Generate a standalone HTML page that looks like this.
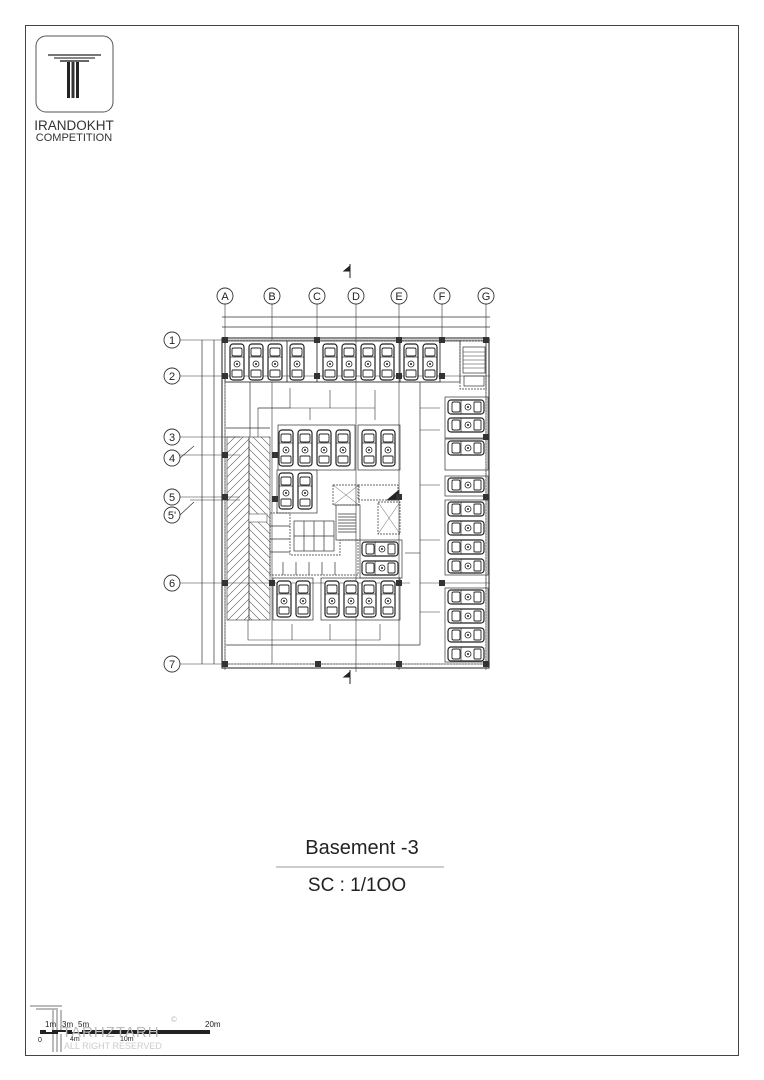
<!DOCTYPE html>
<html><head><meta charset="utf-8"><style>
html,body{margin:0;padding:0;background:#fff;}
svg{display:block;}
text{font-family:"Liberation Sans",sans-serif;}
</style></head><body>
<svg width="764" height="1080" viewBox="0 0 764 1080" xmlns="http://www.w3.org/2000/svg">
<defs>
<g id="cv">
  <rect x="-7" y="-18" width="14" height="36" rx="3" fill="#fff" stroke="#222" stroke-width="1.2"/>
  <rect x="-5" y="-14" width="10" height="8" rx="1.5" fill="none" stroke="#222" stroke-width="0.9"/>
  <rect x="-5" y="8" width="10" height="7" rx="1" fill="none" stroke="#222" stroke-width="0.9"/>
  <line x1="-7" y1="-5" x2="7" y2="-5" stroke="#222" stroke-width="0.7"/>
  <circle cx="0" cy="2" r="3" fill="none" stroke="#222" stroke-width="0.8"/>
  <circle cx="0" cy="2" r="1" fill="#222"/>
</g>
<g id="ch">
  <rect x="-18" y="-7" width="36" height="14" rx="3" fill="#fff" stroke="#222" stroke-width="1.2"/>
  <rect x="-14" y="-5" width="8" height="10" rx="1.5" fill="none" stroke="#222" stroke-width="0.9"/>
  <rect x="8" y="-5" width="7" height="10" rx="1" fill="none" stroke="#222" stroke-width="0.9"/>
  <line x1="-5" y1="-7" x2="-5" y2="7" stroke="#222" stroke-width="0.7"/>
  <circle cx="2" cy="0" r="3" fill="none" stroke="#222" stroke-width="0.8"/>
  <circle cx="2" cy="0" r="1" fill="#222"/>
</g>
<pattern id="hatch" width="8" height="8" patternUnits="userSpaceOnUse">
  <path d="M0 8 L8 0 M-2 2 L2 -2 M6 10 L10 6" stroke="#555" stroke-width="0.6"/>
</pattern>
<pattern id="hatch2" width="8" height="8" patternUnits="userSpaceOnUse">
  <path d="M0 0 L8 8 M-2 6 L2 10 M6 -2 L10 2" stroke="#555" stroke-width="0.6"/>
</pattern>
</defs>

<!-- frame -->
<rect x="25.5" y="25.5" width="713" height="1030" fill="none" stroke="#444" stroke-width="1"/>

<!-- logo -->
<rect x="36" y="36" width="77" height="76" rx="10" fill="#fff" stroke="#555" stroke-width="1"/>
<rect x="48" y="54" width="53" height="2" fill="#777"/>
<rect x="54" y="57" width="41" height="2" fill="#888"/>
<rect x="60" y="60" width="29" height="2" fill="#666"/>
<rect x="67" y="62" width="3" height="36" fill="#222"/>
<rect x="71.5" y="62" width="3" height="36" fill="#333"/>
<rect x="76" y="62" width="3" height="36" fill="#222"/>
<text x="74" y="130" font-size="13.5" text-anchor="middle" fill="#333">IRANDOKHT</text>
<text x="74" y="141" font-size="11" text-anchor="middle" fill="#333">COMPETITION</text>

<!-- plan -->
<g stroke="#333" fill="none" stroke-width="0.7">
  <!-- axis lines vertical -->
  <g stroke-width="0.6">
    <line x1="225" y1="304" x2="225" y2="670"/>
    <line x1="272" y1="304" x2="272" y2="340"/>
    <line x1="317" y1="304" x2="317" y2="340"/>
    <line x1="356" y1="304" x2="356" y2="672"/>
    <line x1="399" y1="304" x2="399" y2="670"/>
    <line x1="442" y1="304" x2="442" y2="340"/>
    <line x1="486" y1="304" x2="486" y2="670"/>
    <line x1="272" y1="382" x2="272" y2="664"/>
  </g>
  <!-- axis lines horizontal -->
  <g stroke-width="0.6">
    <line x1="180" y1="340" x2="490" y2="340"/>
    <line x1="180" y1="376" x2="490" y2="376"/>
    <line x1="180" y1="437" x2="240" y2="437"/>
    <line x1="180" y1="455" x2="240" y2="455"/>
    <line x1="180" y1="497" x2="240" y2="497"/>
    <line x1="190" y1="500" x2="240" y2="500"/>
    <line x1="180" y1="583" x2="410" y2="583"/>
    <line x1="420" y1="583" x2="490" y2="583"/>
    <line x1="180" y1="664" x2="490" y2="664"/>
  </g>
  <!-- dimension lines -->
  <line x1="222" y1="317" x2="490" y2="317"/>
  <line x1="222" y1="327" x2="490" y2="327"/>
  <line x1="202" y1="340" x2="202" y2="664"/>
  <line x1="214" y1="340" x2="214" y2="664"/>
  <!-- outer wall -->
  <rect x="222" y="338" width="267" height="330" stroke-width="1.1"/>
  <rect x="225" y="341" width="261" height="323" stroke-width="0.5" stroke-dasharray="2,1"/>
  <!-- inner ramp lines -->
  <line x1="250" y1="382" x2="250" y2="437"/>
  <line x1="420" y1="382" x2="420" y2="645"/>
  <line x1="226" y1="645" x2="420" y2="645"/>
  <line x1="226" y1="428" x2="270" y2="428"/>
  <line x1="226" y1="382" x2="440" y2="382"/>
  <!-- top row stalls -->
  <rect x="225" y="341" width="62" height="41"/>
  <rect x="287" y="341" width="30" height="41"/>
  <rect x="317" y="341" width="83" height="41"/>
  <rect x="400" y="341" width="40" height="41"/>
  <rect x="440" y="341" width="20" height="41"/>
  <rect x="460" y="341" width="26" height="48" stroke-dasharray="2,1"/>
  <!-- right stalls -->
  <rect x="445" y="397" width="43" height="41"/>
  <rect x="445" y="439" width="43" height="31"/>
  <rect x="445" y="476" width="43" height="20"/>
  <rect x="445" y="500" width="43" height="75"/>
  <rect x="445" y="588" width="43" height="74"/>
  <!-- middle stalls -->
  <rect x="278" y="425" width="77" height="45"/>
  <rect x="358" y="425" width="42" height="45"/>
  <rect x="277" y="470" width="40" height="43"/>
  <rect x="273" y="578" width="40" height="42"/>
  <rect x="321" y="578" width="79" height="42"/>
  <rect x="360" y="540" width="42" height="38"/>
  <!-- core -->
  <rect x="333" y="485" width="26" height="20" stroke-dasharray="2,1"/>
  <path d="M333 485 L359 505 M359 485 L333 505" stroke-width="0.4"/>
  <rect x="378" y="502" width="22" height="32" stroke-dasharray="2,1"/>
  <path d="M378 502 L400 534 M400 502 L378 534" stroke-width="0.4"/>
  <rect x="358" y="485" width="40" height="15" stroke-dasharray="2,1"/>
  <rect x="336" y="505" width="24" height="35"/>
  <g stroke-width="0.8">
    <line x1="338" y1="514" x2="356" y2="514"/><line x1="338" y1="517" x2="356" y2="517"/>
    <line x1="338" y1="520" x2="356" y2="520"/><line x1="338" y1="523" x2="356" y2="523"/>
    <line x1="338" y1="526" x2="356" y2="526"/><line x1="338" y1="529" x2="356" y2="529"/>
    <line x1="338" y1="532" x2="356" y2="532"/>
  </g>
  <polygon points="387,500 399,490 399,500" fill="#222"/>
  <!-- storage -->
  <path d="M270 513 L290 513 L290 555 L340 555 L340 540 L358 540 L358 575 L270 575 Z" stroke-dasharray="2,1"/>
  <rect x="294" y="521" width="40" height="30"/>
  <line x1="304" y1="521" x2="304" y2="551"/><line x1="314" y1="521" x2="314" y2="551"/><line x1="324" y1="521" x2="324" y2="551"/>
  <line x1="294" y1="536" x2="334" y2="536"/>
  <line x1="270" y1="526" x2="290" y2="526"/><line x1="270" y1="539" x2="290" y2="539"/><line x1="270" y1="552" x2="290" y2="552"/>
  <line x1="283" y1="562" x2="283" y2="575"/><line x1="296" y1="562" x2="296" y2="575"/><line x1="309" y1="562" x2="309" y2="575"/><line x1="322" y1="562" x2="322" y2="575"/><line x1="335" y1="562" x2="335" y2="575"/>
  <!-- stair top right -->
  <rect x="463" y="347" width="22" height="26"/>
  <g stroke-width="0.6">
    <line x1="463" y1="352" x2="485" y2="352"/><line x1="463" y1="356" x2="485" y2="356"/>
    <line x1="463" y1="360" x2="485" y2="360"/><line x1="463" y1="364" x2="485" y2="364"/>
    <line x1="463" y1="368" x2="485" y2="368"/>
  </g>
  <rect x="464" y="376" width="20" height="10"/>
  <!-- circulation arrows -->
  <g stroke-width="0.6">
    <path d="M258 437 L258 408 L290 408 L290 388"/>
    <path d="M258 408 L375 408 L375 390 M375 408 L375 420"/>
    <path d="M330 408 L330 390 M310 408 L310 420"/>
    <path d="M420 408 L440 408 M420 485 L440 485 M420 430 L440 430 M420 540 L440 540 M420 612 L440 612"/>
    <path d="M405 553 L420 553"/>
    <path d="M248 620 L248 640 L380 640 L380 624 M292 640 L292 624 M330 640 L330 624"/>
  </g>
</g>
<!-- hatched ramp -->
<rect x="227" y="437" width="22" height="183" fill="url(#hatch)" stroke="#333" stroke-width="0.6"/>
<rect x="249" y="437" width="21" height="183" fill="url(#hatch2)" stroke="#333" stroke-width="0.6"/>
<rect x="249" y="514" width="18" height="8" fill="#fff" stroke="#333" stroke-width="0.5"/>

<!-- cars -->
<g>
  <use href="#cv" x="237" y="362"/><use href="#cv" x="256" y="362"/><use href="#cv" x="275" y="362"/>
  <use href="#cv" x="297" y="362"/>
  <use href="#cv" x="330" y="362"/><use href="#cv" x="349" y="362"/><use href="#cv" x="368" y="362"/><use href="#cv" x="387" y="362"/>
  <use href="#cv" x="411" y="362"/><use href="#cv" x="430" y="362"/>
  <use href="#cv" x="286" y="448"/><use href="#cv" x="305" y="448"/><use href="#cv" x="324" y="448"/><use href="#cv" x="343" y="448"/>
  <use href="#cv" x="369" y="448"/><use href="#cv" x="388" y="448"/>
  <use href="#cv" x="286" y="491"/><use href="#cv" x="305" y="491"/>
  <use href="#cv" x="284" y="599"/><use href="#cv" x="303" y="599"/>
  <use href="#cv" x="332" y="599"/><use href="#cv" x="351" y="599"/><use href="#cv" x="369" y="599"/><use href="#cv" x="388" y="599"/>
  <use href="#ch" x="466" y="407"/><use href="#ch" x="466" y="425"/><use href="#ch" x="466" y="448"/>
  <use href="#ch" x="466" y="485"/>
  <use href="#ch" x="466" y="509"/><use href="#ch" x="466" y="528"/><use href="#ch" x="466" y="547"/><use href="#ch" x="466" y="566"/>
  <use href="#ch" x="466" y="597"/><use href="#ch" x="466" y="616"/><use href="#ch" x="466" y="635"/><use href="#ch" x="466" y="654"/>
  <use href="#ch" x="380" y="549"/><use href="#ch" x="380" y="568"/>
</g>

<!-- column markers -->
<g fill="#333">
  <rect x="222" y="337" width="6" height="6"/><rect x="314" y="337" width="6" height="6"/><rect x="396" y="337" width="6" height="6"/><rect x="439" y="337" width="6" height="6"/><rect x="483" y="337" width="6" height="6"/>
  <rect x="222" y="373" width="6" height="6"/><rect x="314" y="373" width="6" height="6"/><rect x="396" y="373" width="6" height="6"/><rect x="439" y="373" width="6" height="6"/>
  <rect x="222" y="452" width="6" height="6"/><rect x="222" y="494" width="6" height="6"/><rect x="222" y="580" width="6" height="6"/><rect x="269" y="580" width="6" height="6"/><rect x="396" y="580" width="6" height="6"/><rect x="439" y="580" width="6" height="6"/>
  <rect x="222" y="661" width="6" height="6"/><rect x="315" y="661" width="6" height="6"/><rect x="396" y="661" width="6" height="6"/><rect x="483" y="661" width="6" height="6"/>
  <rect x="483" y="434" width="6" height="6"/><rect x="483" y="494" width="6" height="6"/><rect x="396" y="494" width="6" height="6"/><rect x="272" y="496" width="6" height="6"/><rect x="272" y="452" width="6" height="6"/>
</g>

<!-- grid bubbles -->
<g fill="#fff" stroke="#333" stroke-width="0.9">
  <circle cx="225" cy="296" r="8"/><circle cx="272" cy="296" r="8"/><circle cx="317" cy="296" r="8"/><circle cx="356" cy="296" r="8"/><circle cx="399" cy="296" r="8"/><circle cx="442" cy="296" r="8"/><circle cx="486" cy="296" r="8"/>
  <circle cx="172" cy="340" r="8"/><circle cx="172" cy="376" r="8"/><circle cx="172" cy="437" r="8"/><circle cx="172" cy="458" r="8"/><circle cx="172" cy="497" r="8"/><circle cx="172" cy="515" r="8"/><circle cx="172" cy="583" r="8"/><circle cx="172" cy="664" r="8"/>
</g>
<g stroke="#333" stroke-width="0.7"><line x1="180" y1="458" x2="194" y2="446"/><line x1="180" y1="515" x2="194" y2="502"/></g>
<g font-family="Liberation Serif" font-size="11" text-anchor="middle" fill="#222">
  <text x="225" y="300">A</text><text x="272" y="300">B</text><text x="317" y="300">C</text><text x="356" y="300">D</text><text x="399" y="300">E</text><text x="442" y="300">F</text><text x="486" y="300">G</text>
  <text x="172" y="344">1</text><text x="172" y="380">2</text><text x="172" y="441">3</text><text x="172" y="462">4</text><text x="172" y="501">5</text><text x="172" y="519">5'</text><text x="172" y="587">6</text><text x="172" y="668">7</text>
</g>
<!-- section markers -->
<g stroke="#222" stroke-width="1" fill="#222">
  <line x1="350" y1="264" x2="350" y2="278"/><path d="M350 266 L344 271 L350 271 Z"/>
  <line x1="350" y1="670" x2="350" y2="684"/><path d="M350 672 L344 677 L350 677 Z"/>
</g>

<!-- titles -->
<text x="362" y="854" font-size="20" text-anchor="middle" fill="#222">Basement -3</text>
<line x1="276" y1="867" x2="444" y2="867" stroke="#777" stroke-width="0.8"/>
<text x="357" y="891" font-size="19" text-anchor="middle" fill="#222">SC : 1/1OO</text>

<!-- scale bar / watermark -->
<g fill="#bbb">
  <rect x="30" y="1005" width="32" height="2"/><rect x="36" y="1008" width="22" height="2"/>
  <rect x="52" y="1010" width="2" height="42"/><rect x="56" y="1010" width="2" height="42"/><rect x="60" y="1010" width="2" height="42"/>
</g>
<rect x="40" y="1030" width="170" height="4" fill="#222"/>
<g fill="#fff"><rect x="46" y="1030" width="6" height="2"/><rect x="58" y="1032" width="8" height="2"/><rect x="72" y="1030" width="10" height="2"/></g>
<text x="45" y="1027" font-size="8" fill="#222">1m</text><text x="62" y="1027" font-size="8" fill="#222">3m</text><text x="78" y="1027" font-size="8" fill="#222">5m</text>
<text x="205" y="1027" font-size="8" fill="#222">20m</text>
<text x="38" y="1042" font-size="7" fill="#222">0</text><text x="70" y="1041" font-size="7" fill="#222">4m</text><text x="120" y="1041" font-size="7" fill="#222">10m</text>
<text x="62" y="1037" font-size="15" fill="#bbb" letter-spacing="1">TARHZTARH</text>
<text x="64" y="1049" font-size="9" fill="#ccc">ALL RIGHT RESERVED</text>
<text x="171" y="1022" font-size="8" fill="#bbb">©</text>
</svg>
</body></html>
